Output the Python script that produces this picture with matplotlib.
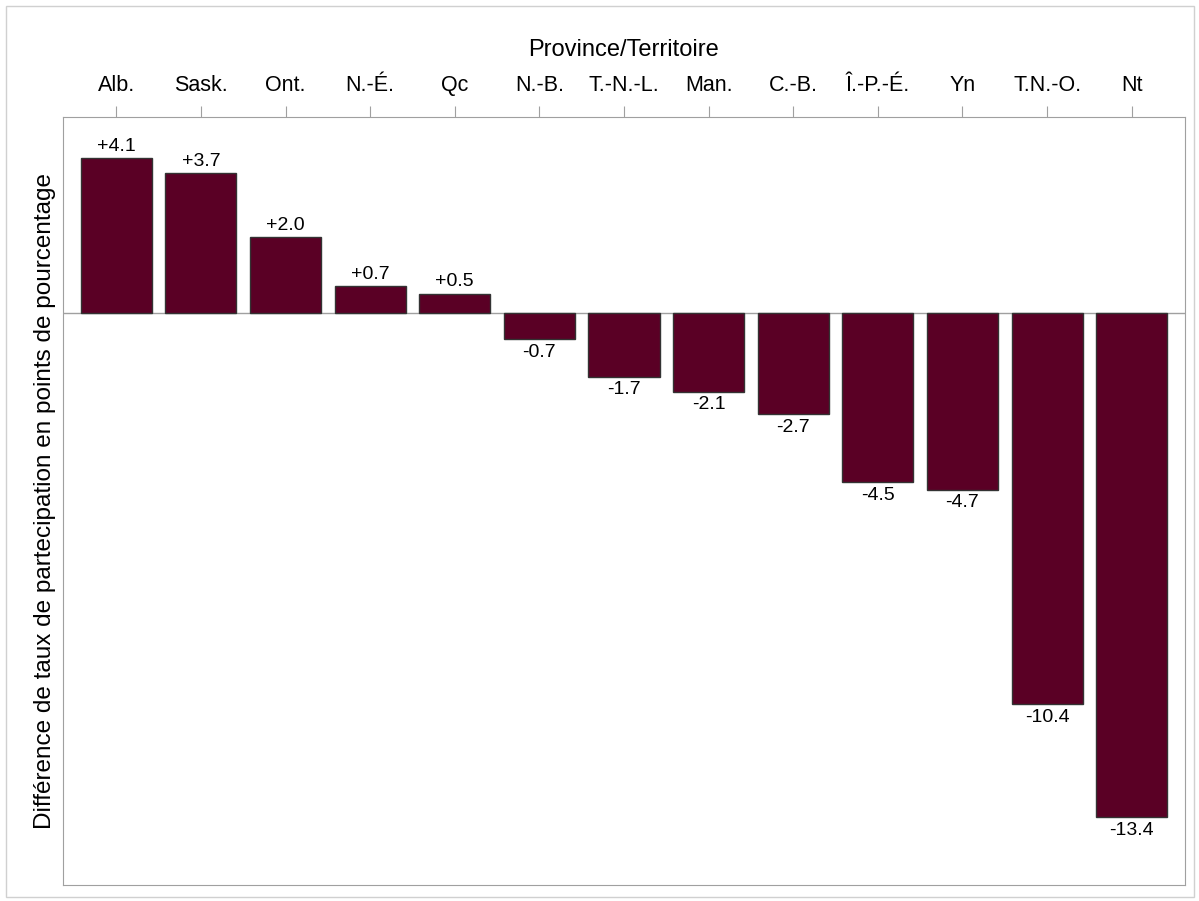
import matplotlib.pyplot as plt
from matplotlib.patches import Rectangle

plt.rcParams['font.family'] = ['Liberation Sans', 'DejaVu Sans']

provinces = ["Alb.", "Sask.", "Ont.", "N.-É.", "Qc", "N.-B.", "T.-N.-L.",
             "Man.", "C.-B.", "Î.-P.-É.", "Yn", "T.N.-O.", "Nt"]
differences = [4.1, 3.7, 2.0, 0.7, 0.5, -0.7, -1.7, -2.1, -2.7, -4.5, -4.7, -10.4, -13.4]

fig = plt.figure(figsize=(11.99, 9.01), dpi=100)
ax = fig.add_axes([63 / 1199, 1 - 885 / 901, (1185 - 63) / 1199, (885 - 117) / 901])

x = list(range(len(provinces)))
ax.bar(x, differences, width=0.84, color="#5a0025", edgecolor="#333333", linewidth=1, zorder=2)
ax.axhline(0, color="#a0a0a0", linewidth=1, zorder=1)

for xi, v in zip(x, differences):
    label = f"+{v:.1f}" if v > 0 else f"{v:.1f}"
    if v > 0:
        ax.text(xi, v + 0.1, label, ha="center", va="bottom", fontsize=14)
    else:
        ax.text(xi, v - 0.12, label, ha="center", va="top", fontsize=14)

ax.set_xlim(-0.63, 12.63)
ax.set_ylim(-15.2, 5.2)
ax.xaxis.tick_top()
ax.xaxis.set_label_position("top")
ax.set_xticks(x)
ax.set_xticklabels(provinces, fontsize=15.5)
ax.tick_params(axis="x", length=8, color="#a0a0a0", pad=7)
ax.set_yticks([])
ax.set_xlabel("Province/Territoire", fontsize=17, labelpad=14)
ax.set_ylabel("Différence de taux de partecipation en points de pourcentage", fontsize=17.5, labelpad=5)
for s in ax.spines.values():
    s.set_color("#a0a0a0")

fig.patches.append(Rectangle((6 / 1199, 4 / 901), 1188 / 1199, 891 / 901, transform=fig.transFigure,
                             fill=False, edgecolor="#d0d0d0", linewidth=1))

plt.savefig("out.png", dpi=100)
